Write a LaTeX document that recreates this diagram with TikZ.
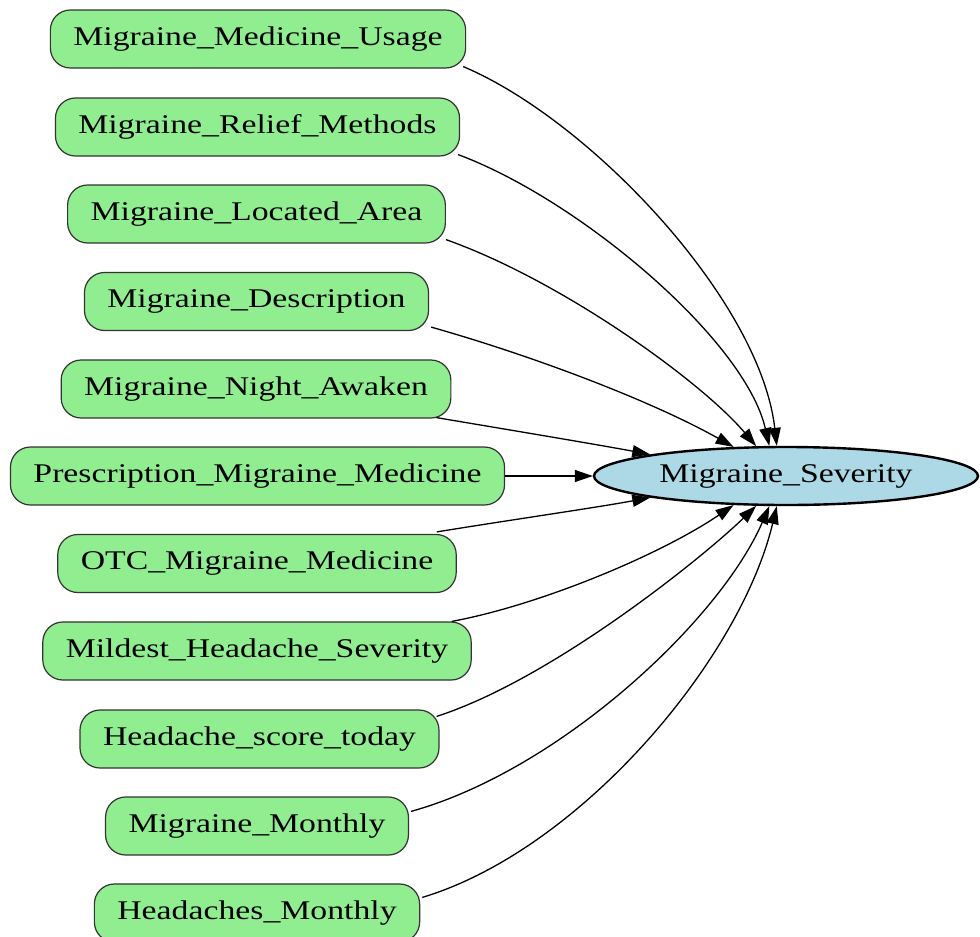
\documentclass[tikz,border=0pt]{standalone}
\usepackage{fontspec}
\setmainfont[FakeStretch=1.25]{Liberation Serif}
\usetikzlibrary{arrows.meta,shapes.geometric,calc}
\definecolor{boxgreen}{HTML}{90EE90}
\definecolor{ovalblue}{HTML}{ADD8E6}
\tikzset{
  factor/.style={draw=black!80, line width=1.2pt, fill=boxgreen, rounded corners=20pt,
    minimum height=58pt, inner xsep=23pt, inner ysep=0pt,
    font=\fontsize{27pt}{32pt}\selectfont},
  target/.style={draw=black, line width=2.4pt, fill=ovalblue, ellipse,
    minimum width=384pt, minimum height=58pt, inner sep=0pt,
    font=\fontsize{27pt}{32pt}\selectfont},
  edge/.style={draw=black, line width=1.3pt, -{Triangle[length=18pt,width=12pt]}}
}
\begin{document}
\begin{tikzpicture}[x=1pt,y=-1pt]
\useasboundingbox (0,0) rectangle (980,937);

% cause variables, one column on the left
\node[factor] (usage)    at (258,39)  {Migraine\_Medicine\_Usage};
\node[factor] (relief)   at (257.5,127) {Migraine\_Relief\_Methods};
\node[factor] (area)     at (256.5,214) {Migraine\_Located\_Area};
\node[factor] (descr)    at (256.5,301.5) {Migraine\_Description};
\node[factor] (night)    at (256,389) {Migraine\_Night\_Awaken};
\node[factor] (presc)    at (257.5,476) {Prescription\_Migraine\_Medicine};
\node[factor] (otc)      at (257,563.5) {OTC\_Migraine\_Medicine};
\node[factor] (mildest)  at (257,651) {Mildest\_Headache\_Severity};
\node[factor] (score)    at (259.5,739) {Headache\_score\_today};
\node[factor] (mmonthly) at (257,826) {Migraine\_Monthly};
\node[factor] (hmonthly) at (257,913) {Headaches\_Monthly};

% outcome
\node[target] (sev) at (786,476) {Migraine\_Severity};

% edges into the outcome
\draw[edge] ($(usage.south east)+(-3,-2)$) .. controls (590,120) and (760,300) .. (sev.107);
\draw[edge] ($(relief.south east)+(-2,-2)$) .. controls (580,200) and (745,340) .. (sev.119);
\draw[edge] ($(area.south east)+(0,-4)$) .. controls (560,280) and (700,380) .. (sev.135);
\draw[edge] ($(descr.south east)+(2,-4)$) .. controls (530,355) and (650,400) .. (sev.151);
\draw[edge] ($(night.south east)+(-15,-1)$) .. controls (510,430) and (600,445) .. (sev.171);
\draw[edge] (presc.east) -- (sev.west);
\draw[edge] ($(otc.north east)+(-20,-2)$) .. controls (510,520) and (600,507) .. (sev.189);
\draw[edge] ($(mildest.north east)+(-20,0)$) .. controls (540,605) and (660,555) .. (sev.209);
\draw[edge] ($(score.north east)+(-3,7)$) .. controls (550,680) and (700,560) .. (sev.225);
\draw[edge] ($(mmonthly.north east)+(2,15)$) .. controls (560,770) and (720,620) .. (sev.241);
\draw[edge] ($(hmonthly.north east)+(2,14)$) .. controls (580,850) and (740,660) .. (sev.253);
\end{tikzpicture}
\end{document}
